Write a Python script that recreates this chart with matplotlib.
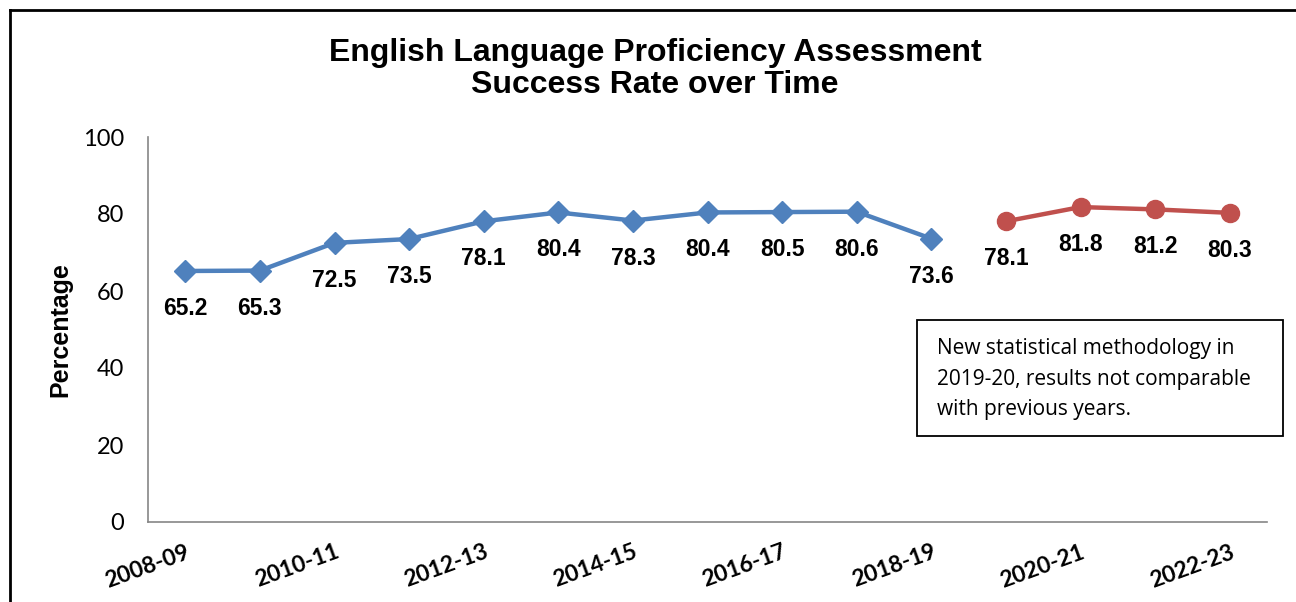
import matplotlib
matplotlib.use("Agg")
import matplotlib.pyplot as plt
from matplotlib.lines import Line2D
from matplotlib import font_manager

categories = ["2008-09", "2009-10", "2010-11", "2011-12", "2012-13", "2013-14", "2014-15",
              "2015-16", "2016-17", "2017-18", "2018-19", "2019-20", "2020-21", "2021-22", "2022-23"]
old_values = [65.2, 65.3, 72.5, 73.5, 78.1, 80.4, 78.3, 80.4, 80.5, 80.6, 73.6]
new_values = [78.1, 81.8, 81.2, 80.3]
yticks = [0, 20, 40, 60, 80, 100]

title = "English Language Proficiency Assessment\nSuccess Rate over Time"
note = "New statistical methodology in\n2019-20, results not comparable\nwith previous years."

blue = "#4F81BD"
red = "#C0504D"


def has_font(name):
    try:
        font_manager.findfont(name, fallback_to_default=False)
        return True
    except Exception:
        return False


narrow_found = has_font("Liberation Sans Narrow")
narrow = ["Liberation Sans Narrow", "DejaVu Sans"] if narrow_found else ["Liberation Sans", "DejaVu Sans"]
label_size = 18 if narrow_found else 16.5
calibri = ["Lato", "DejaVu Sans"]
arial = ["Liberation Sans", "DejaVu Sans"]

fig = plt.figure(figsize=(12.96, 6.02), dpi=100)
ax = fig.add_axes([148/1296, 1 - 522/602, (1267-148)/1296, (522-137)/602])

x_old = list(range(len(old_values)))
x_new = list(range(len(old_values), len(old_values) + len(new_values)))

ax.plot(x_old, old_values, color=blue, lw=3.2, marker="D", markersize=11, zorder=3)
ax.plot(x_new, new_values, color=red, lw=3.2, marker="o", markersize=13, zorder=3)

for xs, vs in ((x_old, old_values), (x_new, new_values)):
    for xi, v in zip(xs, vs):
        ax.annotate(f"{v:.1f}", (xi, v), xytext=(0, -27), textcoords="offset points",
                    ha="center", va="center", fontsize=label_size, fontweight="bold",
                    family=narrow, color="black")

ax.set_xlim(-0.5, len(categories) - 0.5)
ax.set_ylim(0, 100)
ax.set_yticks(yticks)
ax.set_yticklabels([str(t) for t in yticks], fontsize=17, family=calibri)
ax.set_xticks(range(0, len(categories), 2))
ax.set_xticklabels(categories[::2], rotation=20, ha="right", va="top",
                   rotation_mode="anchor", fontsize=16.5, fontweight="bold", family=calibri)
ax.tick_params(axis="y", length=0, pad=17)
ax.tick_params(axis="x", length=0, pad=14)
for s in ("top", "right"):
    ax.spines[s].set_visible(False)
for s in ("left", "bottom"):
    ax.spines[s].set_color("#868686")
    ax.spines[s].set_linewidth(1.2)

ax.set_ylabel("Percentage", fontsize=18, fontweight="bold", family=arial, labelpad=8)

fig.text(655/1296, 1 - 69/602, title, ha="center", va="center", fontsize=23,
         fontweight="bold", family=arial, linespacing=1.12)

fig.text(937/1296, 1 - 379/602, note, ha="left", va="center", fontsize=15,
         family=["Open Sans", "DejaVu Sans"], linespacing=1.6)
rect = plt.Rectangle((917/1296, 1 - 436/602), (1283-917)/1296, (436-320)/602,
                     transform=fig.transFigure, fill=False, edgecolor="black", lw=1.3)
fig.add_artist(rect)

# outer chart border (top and left only visible)
fig.add_artist(Line2D([10/1296, 1], [1 - 10/602, 1 - 10/602], transform=fig.transFigure,
                      color="black", lw=2))
fig.add_artist(Line2D([10/1296, 10/1296], [0, 1 - 10/602], transform=fig.transFigure,
                      color="black", lw=2))

fig.savefig("out.png", dpi=100)
